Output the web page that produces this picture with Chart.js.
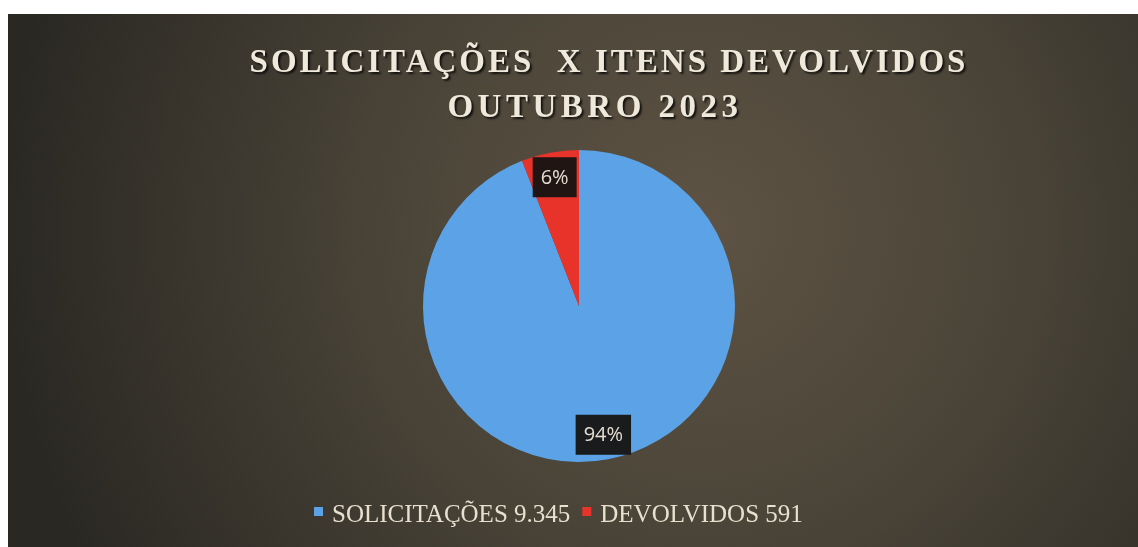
<!DOCTYPE html>
<html lang="pt-BR">
<head>
<meta charset="UTF-8">
<title>Solicitações x Itens Devolvidos - Outubro 2023</title>
<style>
  html, body { margin: 0; padding: 0; background: #ffffff; }
  #wrap { width: 1138px; height: 547px; position: relative; }
</style>
</head>
<body>
<div id="wrap"><canvas id="grafico"></canvas></div>
<script src="https://cdn.jsdelivr.net/npm/chart.js"></script>
<script>
  // dados do gráfico
  var categorias = ['SOLICITAÇÕES', 'DEVOLVIDOS'];
  var valores = [9345, 591];
  var cores = ['#5ba3e6', '#e8332b'];
  var titulo = ['SOLICITAÇÕES  X ITENS DEVOLVIDOS', 'OUTUBRO 2023'];

  var total = valores.reduce(function (a, b) { return a + b; }, 0);

  // fundo escuro com leve brilho no centro
  var fundo = {
    id: 'fundo',
    beforeDraw: function (chart) {
      var ctx = chart.ctx;
      var g = ctx.createRadialGradient(700, 230, 0, 700, 230, 700);
      g.addColorStop(0, '#5e5344');
      g.addColorStop(0.45, '#4a4438');
      g.addColorStop(1, '#2a2823');
      ctx.save();
      ctx.fillStyle = g;
      ctx.fillRect(8, 14, chart.width - 8, chart.height - 14);
      ctx.restore();
    }
  };

  // título com espaçamento entre letras e sombra
  var tituloPlugin = {
    id: 'tituloPlugin',
    afterDraw: function (chart) {
      var ctx = chart.ctx;
      ctx.save();
      ctx.font = 'bold 33px "Liberation Serif", "Times New Roman", serif';
      ctx.textAlign = 'center';
      ctx.textBaseline = 'middle';
      ctx.shadowColor = 'rgba(0,0,0,0.75)';
      ctx.shadowOffsetX = 2;
      ctx.shadowOffsetY = 2;
      ctx.shadowBlur = 2;
      ctx.fillStyle = '#efe9dc';
      ctx.letterSpacing = '3px';
      ctx.fillText(titulo[0], 609, 63);
      ctx.letterSpacing = '4.5px';
      ctx.fillText(titulo[1], 595, 108);
      ctx.restore();
    }
  };

  // rótulos de porcentagem em caixas escuras perto da borda
  var rotulos = {
    id: 'rotulos',
    afterDatasetsDraw: function (chart) {
      var ctx = chart.ctx;
      var meta = chart.getDatasetMeta(0);
      ctx.save();
      ctx.font = '20px "Open Sans", "Liberation Sans", sans-serif';
      ctx.textAlign = 'center';
      ctx.textBaseline = 'middle';
      meta.data.forEach(function (arc, i) {
        var p = arc.getProps(['x', 'y', 'startAngle', 'endAngle', 'outerRadius'], true);
        var meio = (p.startAngle + p.endAngle) / 2;
        var r = p.outerRadius * 0.84;
        var x = p.x + Math.cos(meio) * r;
        var y = p.y + Math.sin(meio) * r;
        var txt = Math.round(valores[i] / total * 100) + '%';
        var w = ctx.measureText(txt).width + 16;
        var h = 40;
        ctx.fillStyle = 'rgba(22,20,18,0.95)';
        ctx.fillRect(x - w / 2, y - h / 2, w, h);
        ctx.fillStyle = '#e4ded2';
        ctx.fillText(txt, x, y + 1);
      });
      ctx.restore();
    }
  };

  // legenda desenhada embaixo
  var legenda = {
    id: 'legenda',
    afterDraw: function (chart) {
      var ctx = chart.ctx;
      ctx.save();
      ctx.font = '25px "Liberation Serif", "Times New Roman", serif';
      ctx.textBaseline = 'alphabetic';
      var x = 314;
      var yBase = 522;
      categorias.forEach(function (c, i) {
        ctx.fillStyle = cores[i];
        ctx.fillRect(x, yBase - 15, 9, 9);
        var txt = c + ' ' + valores[i].toLocaleString('pt-BR');
        ctx.fillStyle = '#e8e0cf';
        ctx.fillText(txt, x + 18, yBase);
        x += 18 + ctx.measureText(txt).width + 12;
      });
      ctx.restore();
    }
  };

  var ctx = document.getElementById('grafico').getContext('2d');
  var grafico = new Chart(ctx, {
    type: 'pie',
    data: {
      labels: categorias,
      datasets: [{
        data: valores,
        backgroundColor: cores,
        borderWidth: 0
      }]
    },
    options: {
      responsive: true,
      maintainAspectRatio: false,
      animation: false,
      layout: {
        padding: { top: 150, bottom: 85, left: 20, right: 0 }
      },
      plugins: {
        legend: { display: false },
        title: { display: false },
        tooltip: { enabled: false }
      }
    },
    plugins: [fundo, rotulos, tituloPlugin, legenda]
  });
</script>
</body>
</html>
